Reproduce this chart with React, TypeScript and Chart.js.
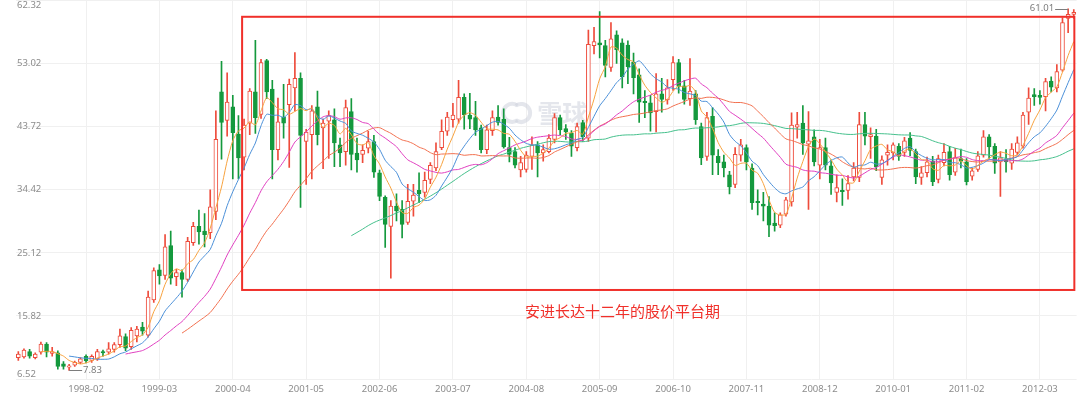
import React, { useEffect, useRef } from 'react';
import { Chart, registerables } from 'chart.js';

Chart.register(...registerables);

// ---------- data (monthly candles, 1997-02 .. 2012-09) ----------
const START_YEAR = 1997;
const START_MONTH = 2;

const OPEN = [
  9.7, 9.8, 10.6, 9.7, 10.5, 11.7, 10.3, 10.4, 8.8, 8.3, 8.6, 9.0, 9.9, 9.3, 9.5, 10.6, 10.5, 10.9, 11.6, 12.8,
  11.3, 12.9, 14.2, 13.0, 18.2, 22.6, 21.8, 26.2, 21.6, 22.2, 21.2, 26.6, 29.0, 28.3, 28.1, 31.2, 48.8, 44.6, 46.6, 42.6,
  39.2, 44.2, 48.8, 45.5, 53.4, 49.2, 40.3, 45.1, 46.9, 49.4, 50.8, 41.5, 42.5, 46.6, 43.5, 44.5, 44.7, 41.0, 40.0, 45.9,
  39.8, 39.6, 40.5, 41.5, 36.9, 33.3, 29.0, 32.0, 31.5, 29.6, 32.7, 34.3, 34.0, 35.9, 37.6, 40.6, 43.0, 44.7, 44.8, 48.0,
  45.4, 45.0, 43.5, 40.3, 43.1, 45.1, 44.8, 40.6, 40.0, 37.3, 37.4, 39.3, 41.0, 39.8, 40.0, 41.8, 45.0, 43.4, 42.7, 40.6,
  44.3, 42.0, 55.6, 56.0, 55.6, 52.4, 57.2, 56.0, 55.7, 53.2, 51.3, 47.4, 47.2, 45.9, 48.5, 47.6, 50.6, 53.1, 49.7, 47.8,
  48.5, 43.7, 39.3, 45.2, 39.3, 38.5, 36.6, 35.2, 39.5, 40.6, 37.6, 32.7, 32.3, 32.0, 29.5, 29.2, 30.8, 32.6, 43.6, 44.2,
  41.1, 42.2, 38.0, 40.6, 37.9, 34.0, 34.3, 34.3, 36.3, 36.2, 44.0, 42.2, 42.3, 36.2, 39.5, 39.8, 40.8, 39.9, 42.0, 40.0,
  36.2, 36.9, 38.6, 35.9, 38.4, 40.0, 37.0, 39.0, 38.5, 36.4, 37.4, 39.5, 42.2, 40.8, 38.5, 38.9, 38.3, 39.9, 40.8, 45.8,
  48.4, 48.3, 48.1, 50.4, 49.4, 52.0, 59.6, 60.2,
];
const HIGH = [
  10.6, 11.0, 10.9, 10.4, 12.0, 11.9, 11.2, 10.7, 9.1, 8.7, 9.2, 9.7, 10.1, 10.1, 10.9, 10.8, 11.9, 11.9, 13.9, 13.2,
  14.1, 14.3, 14.9, 19.5, 22.9, 23.4, 27.8, 28.3, 22.7, 22.6, 27.4, 29.6, 31.4, 30.9, 34.4, 46.0, 53.3, 51.6, 48.3, 45.3,
  44.8, 49.3, 56.4, 53.6, 53.6, 50.5, 47.9, 49.9, 50.7, 54.6, 51.6, 43.3, 46.8, 48.9, 44.8, 46.0, 46.3, 42.0, 47.6, 47.8,
  42.0, 41.0, 43.0, 42.4, 37.3, 33.5, 32.8, 33.8, 32.8, 35.2, 35.2, 36.9, 37.0, 38.4, 41.3, 44.7, 45.8, 47.1, 50.5, 48.5,
  48.6, 47.4, 43.9, 43.9, 46.0, 46.8, 46.3, 42.1, 40.6, 39.3, 40.0, 42.2, 41.5, 41.0, 42.5, 45.6, 45.4, 44.0, 43.1, 44.2,
  44.6, 57.9, 58.3, 60.6, 56.4, 59.0, 57.8, 56.6, 56.3, 54.5, 52.2, 49.0, 48.3, 51.5, 50.8, 50.6, 54.0, 53.6, 50.5, 53.7,
  49.0, 44.2, 45.8, 46.5, 40.3, 39.5, 37.1, 40.6, 41.8, 41.0, 38.2, 34.4, 34.0, 33.4, 31.0, 31.0, 33.3, 45.7, 45.8, 46.8,
  45.9, 43.2, 41.8, 42.0, 38.8, 36.6, 36.0, 36.5, 38.4, 45.8, 45.8, 43.5, 43.3, 39.4, 41.0, 41.3, 41.2, 42.1, 42.8, 40.4,
  37.8, 39.2, 39.3, 39.5, 41.2, 40.8, 40.5, 40.4, 39.0, 37.6, 40.0, 43.1, 42.5, 41.2, 40.0, 40.3, 41.2, 42.2, 45.8, 49.4,
  49.3, 49.0, 50.8, 51.0, 52.8, 59.7, 61.01, 60.9,
];
const LOW = [
  9.3, 9.6, 9.6, 9.5, 10.2, 9.8, 9.9, 8.0, 8.0, 7.83, 8.4, 8.8, 8.9, 9.0, 9.3, 9.9, 10.2, 10.5, 11.2, 10.7,
  10.9, 12.0, 13.0, 12.7, 17.8, 20.5, 21.2, 20.5, 20.3, 18.6, 20.9, 26.2, 26.4, 26.0, 27.2, 30.0, 38.9, 42.3, 36.0, 36.0,
  37.3, 42.5, 42.7, 44.9, 47.8, 36.0, 38.8, 42.0, 37.7, 46.0, 31.8, 35.2, 36.0, 41.0, 37.5, 39.0, 37.8, 37.8, 38.0, 37.3,
  37.0, 38.4, 39.8, 36.2, 32.8, 25.9, 21.4, 29.8, 27.3, 29.3, 30.5, 32.5, 33.3, 35.3, 37.2, 40.3, 42.4, 43.6, 44.2, 43.3,
  43.4, 42.4, 39.8, 39.7, 42.4, 43.9, 40.5, 38.5, 37.6, 36.3, 37.0, 37.4, 36.3, 38.6, 39.8, 41.3, 42.5, 41.8, 39.3, 40.1,
  41.5, 41.5, 54.4, 53.8, 51.0, 51.8, 53.0, 49.4, 50.0, 48.5, 44.3, 45.0, 43.0, 42.9, 45.8, 47.0, 49.0, 48.6, 47.0, 46.8,
  44.0, 38.1, 38.7, 36.6, 36.6, 36.3, 33.8, 34.7, 38.6, 37.3, 31.5, 30.7, 29.8, 27.5, 28.3, 28.8, 30.5, 32.0, 42.0, 39.6,
  31.5, 37.9, 36.0, 37.3, 33.7, 32.6, 32.1, 33.0, 35.7, 35.6, 41.0, 39.0, 37.2, 35.2, 38.0, 38.8, 38.7, 39.3, 39.4, 35.3,
  35.2, 36.3, 35.0, 35.4, 37.9, 35.8, 36.5, 37.6, 35.1, 35.8, 37.1, 39.2, 39.0, 36.8, 33.4, 37.0, 37.4, 39.5, 40.5, 44.0,
  46.8, 47.0, 46.0, 48.8, 48.8, 51.8, 57.5, 59.6,
];
const CLOSE = [
  10.2, 10.8, 9.9, 10.2, 11.7, 10.5, 10.6, 8.4, 8.4, 8.5, 9.0, 9.5, 9.2, 9.9, 10.6, 10.4, 11.0, 11.6, 12.9, 11.1,
  13.7, 13.9, 13.6, 18.6, 22.5, 21.7, 26.0, 21.4, 22.2, 21.2, 26.8, 29.0, 28.2, 27.8, 31.9, 41.8, 44.3, 47.3, 42.8, 39.1,
  43.9, 48.9, 45.0, 53.1, 48.8, 40.3, 44.4, 44.2, 49.9, 50.8, 42.4, 42.9, 46.0, 42.5, 44.2, 45.3, 41.3, 39.8, 46.5, 39.6,
  38.8, 40.2, 41.5, 37.0, 33.4, 29.3, 32.0, 31.3, 29.3, 32.7, 33.6, 33.8, 35.8, 38.0, 40.0, 43.0, 45.1, 45.4, 48.0, 45.4,
  44.8, 43.2, 40.3, 43.2, 45.0, 44.3, 40.7, 39.6, 38.0, 38.4, 39.5, 41.0, 39.8, 40.3, 42.0, 45.0, 43.2, 42.9, 40.8, 43.7,
  42.2, 55.8, 56.2, 55.7, 52.7, 56.6, 55.0, 51.0, 52.5, 50.9, 47.3, 47.2, 45.7, 48.5, 47.7, 49.4, 53.1, 49.6, 47.7, 48.9,
  44.7, 39.1, 45.0, 39.5, 38.4, 37.6, 34.8, 39.6, 41.0, 38.5, 32.5, 32.5, 32.0, 29.2, 29.1, 30.7, 32.9, 43.9, 44.0, 41.3,
  41.6, 38.5, 40.6, 38.0, 35.4, 34.7, 34.1, 35.3, 37.6, 44.0, 42.3, 42.5, 37.8, 38.8, 39.9, 41.0, 39.3, 41.6, 40.2, 36.3,
  36.9, 38.5, 35.6, 39.0, 39.9, 36.6, 39.1, 38.6, 35.6, 37.2, 39.4, 42.2, 40.7, 38.3, 39.1, 38.5, 40.4, 41.3, 45.4, 47.9,
  48.1, 48.0, 50.3, 49.5, 51.8, 59.0, 60.2, 60.5,
];

const MONTHS = OPEN.map((_, i) => {
  const m = START_MONTH - 1 + i;
  return `${START_YEAR + Math.floor(m / 12)}-${String((m % 12) + 1).padStart(2, '0')}`;
});

const X_TICK_LABELS = [
  '1998-02', '1999-03', '2000-04', '2001-05', '2002-06', '2003-07', '2004-08',
  '2005-09', '2006-10', '2007-11', '2008-12', '2010-01', '2011-02', '2012-03',
];
const Y_TICKS = [6.52, 15.82, 25.12, 34.42, 43.72, 53.02, 62.32];

const MA_PERIODS = [5, 10, 20, 30, 60];

// ---------- annotations (data-space anchors) ----------
const NOTE_TEXT = '安进长达十二年的股价平台期';
const BOX = { fromIdx: 39.65, toIdx: 187.1, top: 59.85, bottom: 19.65 };
const NOTE_POS = { idx: 107.05, price: 16.45 };
const WATERMARK_POS = { idx: 88.2, price: 45.7 };

// ---------- styles ----------
const UP = '#ee4b3b';
const DOWN = '#14993d';
const MA_COLORS = ['#f7a23e', '#4a8fd8', '#e03fc0', '#f2704f', '#45c08c'];
const GRID = '#f0f0f0';
const LABEL = '#8c8c8c';
const FONT = '"Noto Sans", "Liberation Sans", sans-serif';
const CJK = '"Noto Sans CJK SC", sans-serif';

function movingAverage(values: number[], n: number): (number | null)[] {
  return values.map((_, i) => {
    if (i < n - 1) return null;
    let s = 0;
    for (let k = i - n + 1; k <= i; k++) s += values[k];
    return s / n;
  });
}

const isUp = (i: number) => CLOSE[i] >= OPEN[i];

const overlayPlugin = {
  id: 'overlay',
  beforeDatasetsDraw(chart: any) {
    const { ctx } = chart;
    const xs = chart.scales.x;
    const ys = chart.scales.y;
    const x0 = xs.getPixelForValue(0);
    const step = xs.getPixelForValue(1) - x0;
    const cx = x0 + WATERMARK_POS.idx * step;
    const cy = ys.getPixelForValue(WATERMARK_POS.price);
    ctx.save();
    ctx.strokeStyle = 'rgba(205,210,220,0.55)';
    ctx.lineWidth = 4;
    ctx.beginPath();
    ctx.arc(cx - 4, cy, 9, Math.PI * 0.3, Math.PI * 1.7);
    ctx.stroke();
    ctx.beginPath();
    ctx.arc(cx + 5, cy, 9, -Math.PI * 0.7, Math.PI * 0.7);
    ctx.stroke();
    ctx.fillStyle = 'rgba(205,210,220,0.55)';
    ctx.font = `bold 25px ${CJK}`;
    ctx.textAlign = 'left';
    ctx.textBaseline = 'middle';
    ctx.fillText('雪球', cx + 21, cy + 1);
    ctx.restore();
  },
  afterDatasetsDraw(chart: any) {
    const { ctx, chartArea } = chart;
    const xs = chart.scales.x;
    const ys = chart.scales.y;
    const x0 = xs.getPixelForValue(0);
    const step = xs.getPixelForValue(1) - x0;
    const px = (idx: number) => x0 + idx * step;
    ctx.save();

    // y tick labels (inside, left)
    ctx.fillStyle = LABEL;
    ctx.font = `9.5px ${FONT}`;
    ctx.textAlign = 'left';
    ctx.textBaseline = 'middle';
    Y_TICKS.forEach((v) => {
      let y = ys.getPixelForValue(v);
      y = Math.min(Math.max(y, chartArea.top + 5), chartArea.bottom - 5);
      ctx.fillText(v.toFixed(2), chartArea.left + 1.5, y);
    });

    // max / min markers
    const maxH = Math.max(...HIGH);
    const minL = Math.min(...LOW);
    const hi = HIGH.indexOf(maxH);
    const lo = LOW.indexOf(minL);
    ctx.strokeStyle = '#7d7d7d';
    ctx.lineWidth = 1;
    const xh = xs.getPixelForValue(hi);
    const yh = Math.round(ys.getPixelForValue(maxH)) + 0.5;
    ctx.beginPath();
    ctx.moveTo(xh - 13, yh);
    ctx.lineTo(xh, yh);
    ctx.stroke();
    ctx.fillStyle = '#7d7d7d';
    ctx.textAlign = 'right';
    ctx.fillText(maxH.toFixed(2), xh - 14, yh - 1);
    const xl = xs.getPixelForValue(lo);
    const yl = Math.round(ys.getPixelForValue(minL)) + 0.5;
    ctx.beginPath();
    ctx.moveTo(xl, yl);
    ctx.lineTo(xl + 13, yl);
    ctx.stroke();
    ctx.textAlign = 'left';
    ctx.fillText(minL.toFixed(2), xl + 14, yl);

    // highlight box
    ctx.strokeStyle = '#f0302a';
    ctx.lineWidth = 2;
    const bx1 = px(BOX.fromIdx);
    const bx2 = px(BOX.toIdx);
    const by1 = ys.getPixelForValue(BOX.top);
    const by2 = ys.getPixelForValue(BOX.bottom);
    ctx.strokeRect(bx1, by1, bx2 - bx1, by2 - by1);

    // note text
    ctx.fillStyle = '#f0302a';
    ctx.font = `15px ${CJK}`;
    ctx.textAlign = 'center';
    ctx.textBaseline = 'middle';
    ctx.fillText(NOTE_TEXT, px(NOTE_POS.idx), ys.getPixelForValue(NOTE_POS.price));
    ctx.restore();
  },
};

export default function App() {
  const canvasRef = useRef<HTMLCanvasElement | null>(null);

  useEffect(() => {
    const canvas = canvasRef.current;
    if (!canvas) return;

    const maDatasets = MA_PERIODS.map((n, k) => ({
      type: 'line' as const,
      label: `MA${n}`,
      data: movingAverage(CLOSE, n),
      borderColor: MA_COLORS[k],
      borderWidth: 1,
      pointRadius: 0,
      tension: 0.25,
      fill: false,
      order: 0,
    }));

    const chart = new Chart(canvas, {
      type: 'bar',
      data: {
        labels: MONTHS,
        datasets: [
          ...maDatasets,
          {
            type: 'bar' as const,
            label: 'body',
            data: OPEN.map((o, i) => [Math.min(o, CLOSE[i]), Math.max(o, CLOSE[i])]),
            backgroundColor: (c: any) => (isUp(c.dataIndex) ? '#ffffff' : DOWN),
            borderColor: (c: any) => (isUp(c.dataIndex) ? UP : DOWN),
            borderWidth: 1,
            borderSkipped: false,
            barThickness: 4,
            grouped: false,
            order: 1,
          } as any,
          {
            type: 'bar' as const,
            label: 'wick',
            data: LOW.map((l, i) => [l, HIGH[i]]),
            backgroundColor: (c: any) => (isUp(c.dataIndex) ? UP : DOWN),
            borderWidth: 0,
            barThickness: 1,
            grouped: false,
            order: 2,
          } as any,
        ],
      },
      options: {
        responsive: false,
        animation: false,
        devicePixelRatio: 1,
        events: [],
        layout: { padding: { left: 15.5, right: 3.4, top: 0, bottom: 0 } },
        plugins: { legend: { display: false }, tooltip: { enabled: false } },
        scales: {
          x: {
            type: 'category',
            offset: true,
            border: { display: false },
            grid: {
              offset: false,
              drawTicks: false,
              color: (c: any) => (X_TICK_LABELS.includes(MONTHS[c.index]) ? GRID : 'rgba(0,0,0,0)'),
            },
            ticks: {
              autoSkip: false,
              maxRotation: 0,
              minRotation: 0,
              padding: 4,
              color: LABEL,
              font: { family: FONT, size: 9.5 },
              callback: (_v: any, i: number) => (X_TICK_LABELS.includes(MONTHS[i]) ? MONTHS[i] : ''),
            },
            afterFit: (s: any) => {
              s.height = 18.8;
            },
          },
          y: {
            type: 'linear',
            min: 6.52,
            max: 62.32,
            border: { display: false },
            grid: { color: GRID, drawTicks: false },
            ticks: { display: false },
            afterBuildTicks: (s: any) => {
              s.ticks = Y_TICKS.map((v) => ({ value: v }));
            },
            afterFit: (s: any) => {
              s.width = 0;
            },
          },
        },
      } as any,
      plugins: [overlayPlugin],
    });

    return () => chart.destroy();
  }, []);

  return (
    <div style={{ position: 'fixed', left: 0, top: 0, width: 1080, height: 398, background: '#fff' }}>
      <canvas ref={canvasRef} width={1080} height={398} style={{ display: 'block' }} />
    </div>
  );
}
